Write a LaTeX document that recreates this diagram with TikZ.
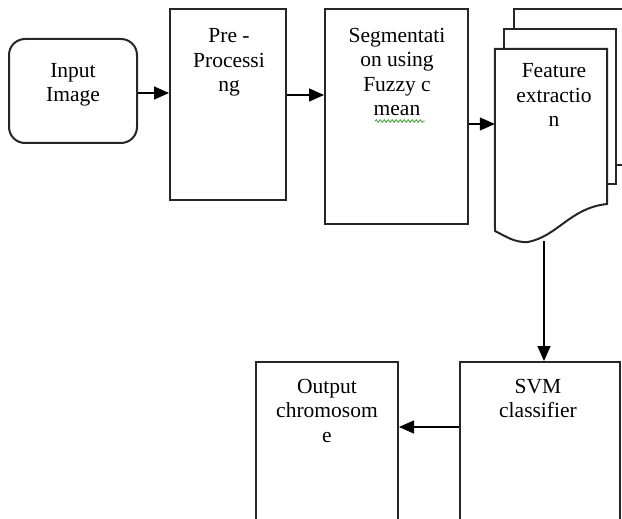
\documentclass[tikz,border=0pt]{standalone}
\usepackage{fontspec}
\setmainfont{Liberation Serif}
\usetikzlibrary{arrows.meta,decorations.pathmorphing}
\definecolor{spellgreen}{RGB}{70,170,60}
\begin{document}
\begin{tikzpicture}[x=1pt,y=-1pt,
  box/.style={draw=black!85,line width=2pt,fill=white,inner sep=0pt},
  rbox/.style={box,rounded corners=16pt},
  txt/.style={align=center,inner sep=0pt,anchor=base,
    font=\fontsize{21.5}{24.5}\selectfont},
  page/.style={draw=black!85,line width=2pt,fill=white},
  arr/.style={draw=black,line width=1.5pt,-{Triangle[length=15pt,width=13pt]}},
  spell/.style={draw=spellgreen,line width=0.9pt,
    decorate,decoration={snake,amplitude=1.3pt,segment length=4pt}}]
\useasboundingbox (0,0) rectangle (622,519);
\clip (0,0) rectangle (622,519);

% process boxes
\node[rbox,minimum width=128pt,minimum height=104pt] (inp) at (73,91) {};
\node[box,minimum width=116pt,minimum height=191pt] (pre) at (228,104.5) {};
\node[box,minimum width=143pt,minimum height=215pt] (seg) at (396.5,116.5) {};
\node[box,minimum width=160pt,minimum height=163pt] (svm) at (540,443.5) {};
\node[box,minimum width=142pt,minimum height=163pt] (out) at (327,443.5) {};

% multi-document symbol: two sheets behind, wavy front sheet
\draw[page] (514,9) rectangle (628,165);
\draw[page] (504,29) rectangle (616,184);
\node[inner sep=0pt,minimum width=112pt,minimum height=192pt] (feat) at (551,145) {};
\draw[page] (feat.north west) -- (feat.north east) -- (607,204)
  .. controls (570,208) and (558,236) .. (528,242)
  .. controls (515,243) and (505,236) .. (495,231) -- cycle;

% labels (placed at the baseline of their last line)
\node[txt] (inptxt) at (73,101.5) {Input\\Image};
\node[txt] (pretxt) at (229,92) {Pre -\\Processi\\ng};
\node[txt] (segtxt) at (397,115.5) {Segmentati\\on using\\Fuzzy c\\mean};
\node[txt] (feattxt) at (554,127) {Feature\\extractio\\n};
\node[txt] (outtxt) at (327,442) {Output\\chromosom\\e};
\node[txt] (svmtxt) at (538,417.5) {SVM\\classifier};

% spelling mark under "mean"
\coordinate (sq1) at (375,121);
\coordinate (sq2) at (425,121);
\draw[spell] (sq1) -- (sq2);

% connectors
\draw[arr] ([yshift=-2pt]inp.east) -- ([yshift=-2pt]inp.east -| pre.west);
\draw[arr] ([yshift=-87pt]pre.north east) -- ([yshift=-87pt]pre.north east -| seg.west);
\draw[arr] ([yshift=-116pt]seg.north east) -- ([yshift=-116pt]seg.north east -| feat.west);
\draw[arr] ([xshift=4pt]svm.north |- feat.south) -- ([xshift=4pt]svm.north);
\draw[arr] ([yshift=-66pt]svm.north west) -- ([yshift=-66pt]svm.north west -| out.east);
\end{tikzpicture}
\end{document}
